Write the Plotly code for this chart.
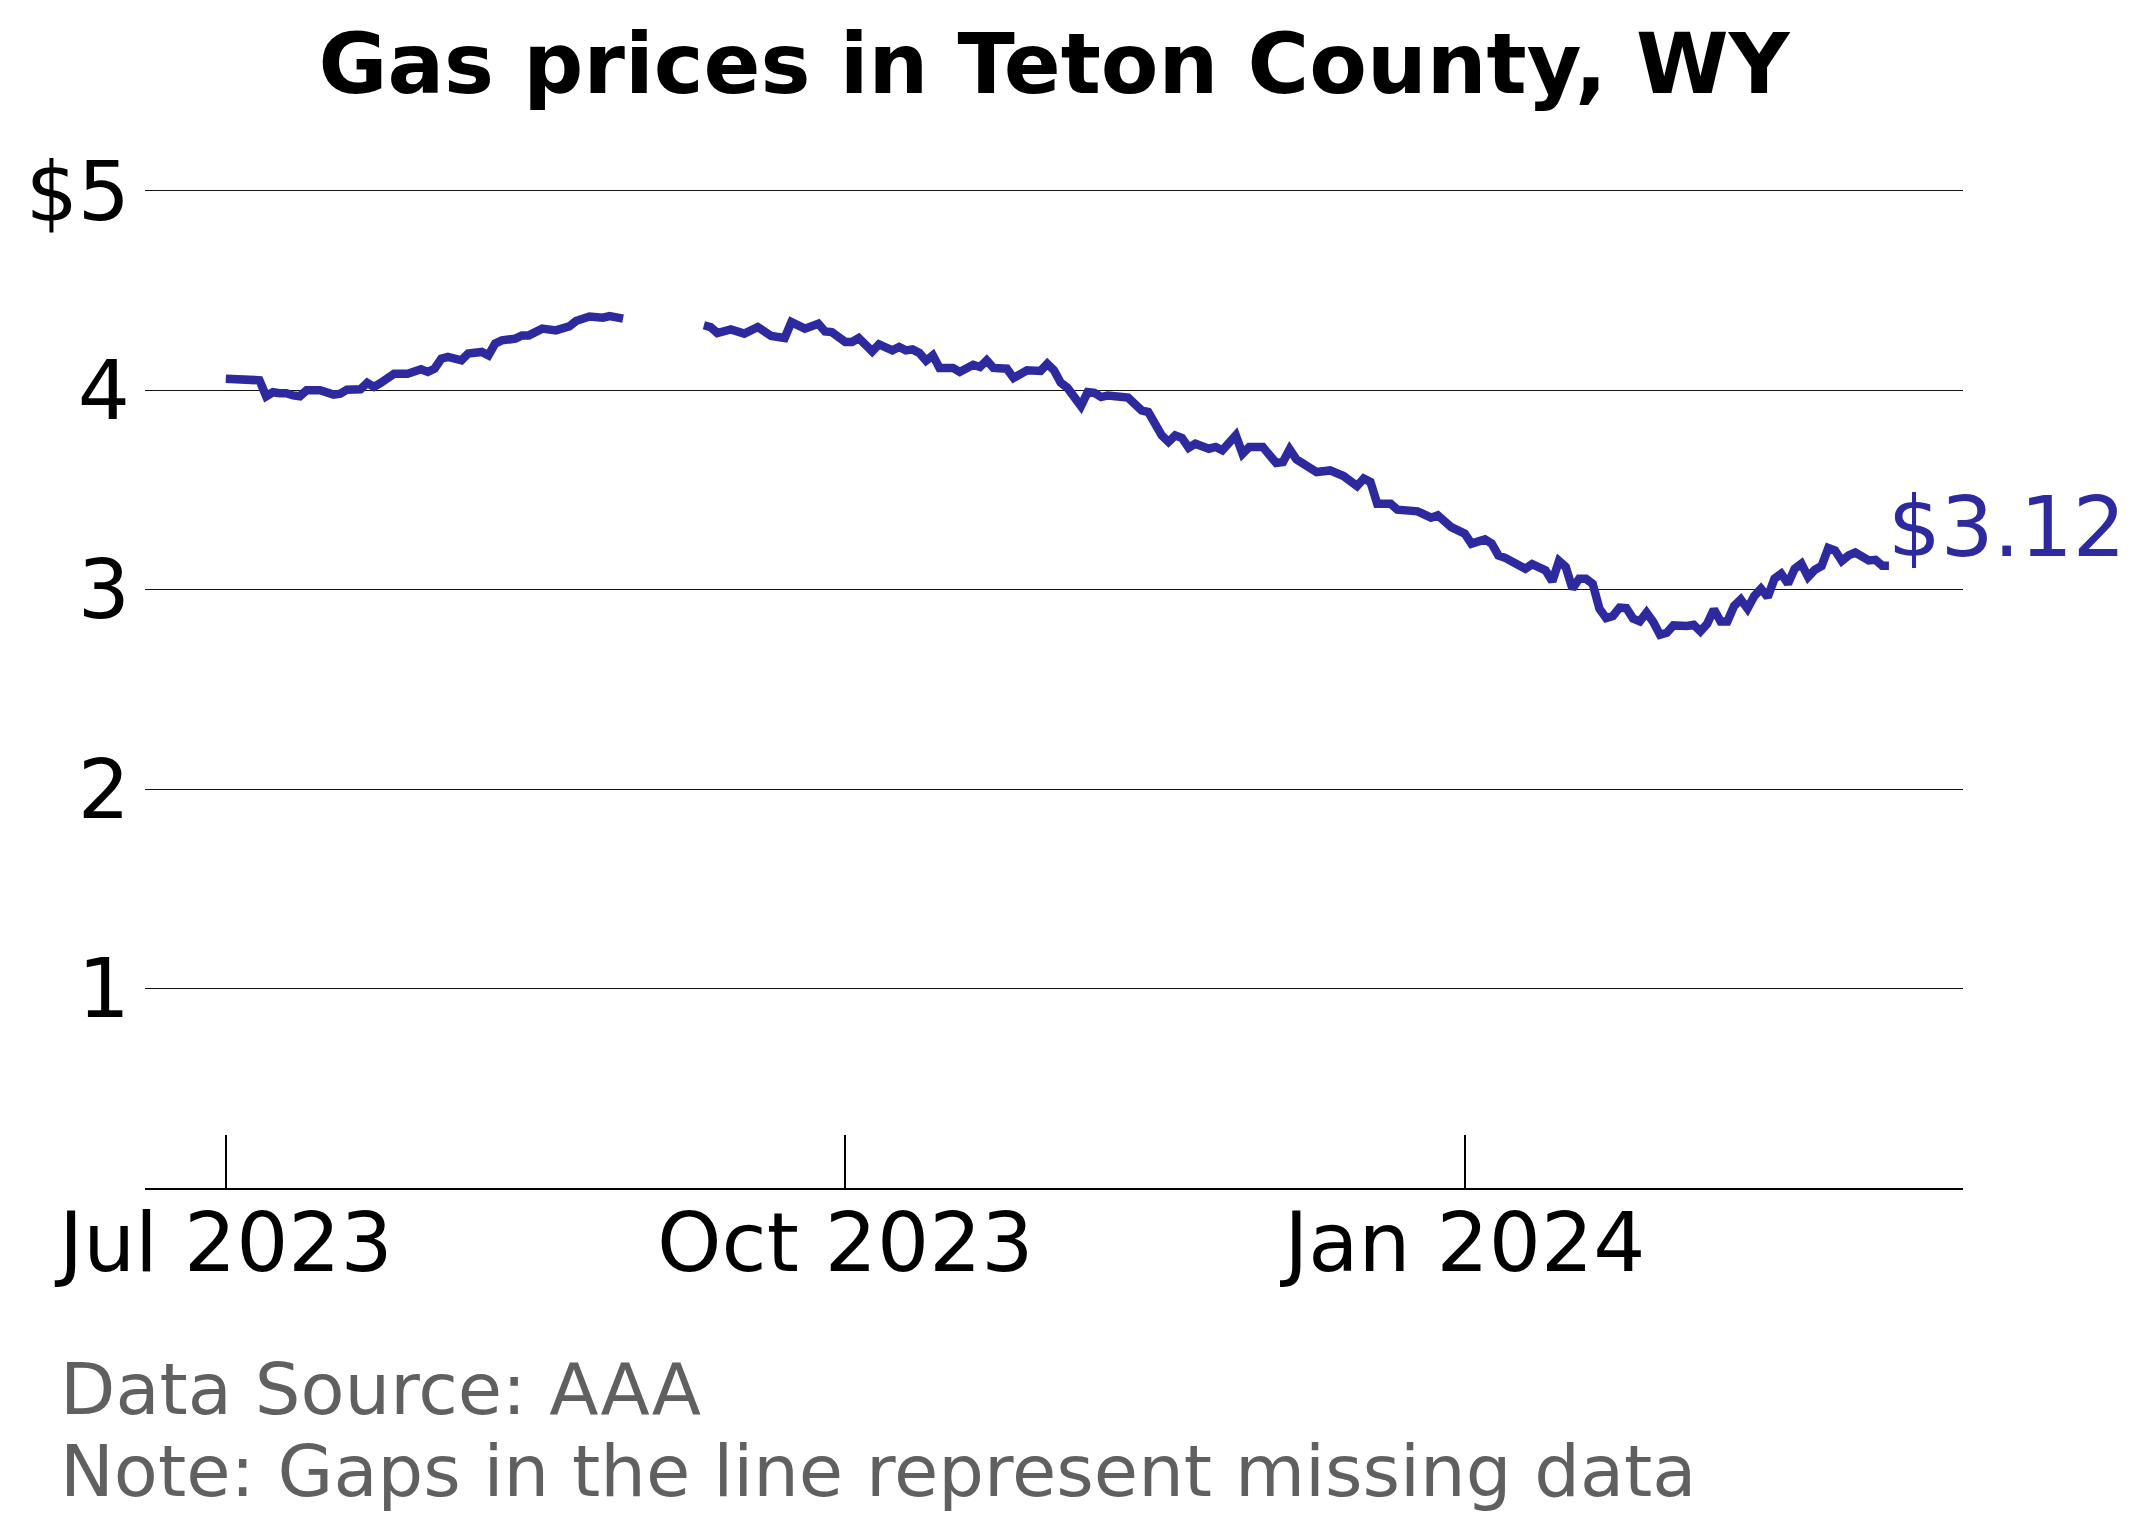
import pandas as pd
import plotly.graph_objects as go

# ---------------- data ----------------
start_date = "2023-07-01"

# segment 1 (days since start_date, price in $)
seg1_days = [0, 2, 3, 4, 5, 6, 7, 8, 9, 10, 11, 12, 14, 16, 17, 18, 20, 21, 22, 23,
             25, 27, 29, 30, 31, 32, 33, 35, 36, 38, 39, 40, 41, 43, 44, 45, 47, 49,
             51, 52, 54, 56, 57, 59]
seg1_prices = [4.058, 4.058, 4.053, 4.060, 4.050, 3.970, 3.990, 3.985, 3.985, 3.974,
               3.970, 4.000, 4.000, 3.978, 3.983, 4.003, 4.005, 4.037, 4.017, 4.037,
               4.083, 4.083, 4.105, 4.092, 4.108, 4.158, 4.167, 4.150, 4.184, 4.192,
               4.175, 4.234, 4.250, 4.259, 4.275, 4.275, 4.309, 4.300, 4.320, 4.347,
               4.370, 4.364, 4.372, 4.359]

# segment 2 (after the missing-data gap)
seg2_days = [71, 72, 73, 75, 77, 79, 81, 83, 84, 86, 88, 89, 90, 92, 93, 94, 96, 97,
             99, 100, 101, 102, 103, 104, 105, 106, 108, 109, 111, 112, 113, 114, 116,
             117, 119, 121, 122, 123, 124, 125, 127, 128, 129, 130, 131, 134, 136, 137,
             139, 140, 141, 142, 143, 144, 146, 147, 148, 150, 151, 152, 154, 156, 157,
             158, 159, 160, 162, 164, 166, 168, 169, 170, 171, 173, 174, 177, 179, 180,
             182, 184, 185, 187, 188, 189, 190, 193, 194, 196, 197, 198, 199, 200, 201,
             202, 203, 204, 205, 206, 207, 208, 209, 210, 211, 212, 213, 214, 215, 217,
             218, 219, 220, 221, 222, 223, 224, 225, 226, 227, 228, 229, 230, 231, 232,
             233, 234, 235, 236, 237, 238, 239, 240, 241, 242, 244, 245, 246, 247]
seg2_prices = [4.326, 4.317, 4.287, 4.305, 4.284, 4.317, 4.272, 4.262, 4.342, 4.309,
               4.334, 4.295, 4.292, 4.242, 4.242, 4.262, 4.195, 4.230, 4.200, 4.217,
               4.200, 4.205, 4.187, 4.148, 4.175, 4.112, 4.112, 4.092, 4.128, 4.117,
               4.150, 4.112, 4.108, 4.062, 4.100, 4.097, 4.133, 4.100, 4.038, 4.012,
               3.921, 3.991, 3.987, 3.966, 3.974, 3.963, 3.899, 3.891, 3.774, 3.741,
               3.774, 3.761, 3.712, 3.732, 3.707, 3.716, 3.699, 3.774, 3.682, 3.716,
               3.716, 3.635, 3.640, 3.704, 3.654, 3.632, 3.590, 3.598, 3.570, 3.520,
               3.557, 3.540, 3.431, 3.431, 3.401, 3.393, 3.361, 3.373, 3.314, 3.281,
               3.231, 3.252, 3.231, 3.172, 3.160, 3.105, 3.128, 3.097, 3.042, 3.144,
               3.114, 3.005, 3.055, 3.055, 3.030, 2.905, 2.858, 2.868, 2.910, 2.908,
               2.855, 2.841, 2.885, 2.838, 2.774, 2.784, 2.821, 2.818, 2.824, 2.791,
               2.829, 2.901, 2.841, 2.841, 2.918, 2.951, 2.905, 2.968, 3.005, 2.963,
               3.055, 3.080, 3.030, 3.105, 3.130, 3.064, 3.100, 3.119, 3.209, 3.197,
               3.144, 3.172, 3.186, 3.147, 3.150, 3.120, 3.120]

tick_dates = ["2023-07-01", "2023-10-01", "2024-01-01"]
tick_labels = ["Jul 2023", "Oct 2023", "Jan 2024"]
y_tickvals = [1, 2, 3, 4, 5]
y_ticktext = ["1", "2", "3", "4", "$5"]

title_text = "Gas prices in Teton County, WY"
caption_source = "Data Source: AAA"
caption_note = "Note: Gaps in the line represent missing data"

# ---------------- build series ----------------
base = pd.Timestamp(start_date)
dates = ([base + pd.Timedelta(days=d) for d in seg1_days] + [None]
         + [base + pd.Timedelta(days=d) for d in seg2_days])
prices = seg1_prices + [None] + seg2_prices

LINE_COLOR = "#2d2a9f"
FONT = "DejaVu Sans"

W, H = 2132, 1524
L, R, T, B = 137, 1955, 123, 1180


def px_x(px):
    return (px - L) / (R - L)


def px_y(py):
    return (B - py) / (B - T)


fig = go.Figure()
fig.add_trace(go.Scatter(
    x=dates, y=prices, mode="lines",
    line=dict(color=LINE_COLOR, width=8.5),
    connectgaps=False, hoverinfo="skip", showlegend=False,
))

last_date = base + pd.Timedelta(days=seg2_days[-1])
fig.add_annotation(
    x=last_date, y=seg2_prices[-1], xref="x", yref="y",
    text=f"${seg2_prices[-1]:.2f}", showarrow=False,
    xanchor="left", yanchor="middle", xshift=-3, yshift=38,
    font=dict(family=FONT, size=83, color=LINE_COLOR),
)

fig.add_annotation(
    x=px_x(50), y=px_y(1381), xref="paper", yref="paper",
    text=caption_source, showarrow=False, xanchor="left", yanchor="middle",
    font=dict(family=FONT, size=72, color="#606060"),
)
fig.add_annotation(
    x=px_x(50), y=px_y(1463), xref="paper", yref="paper",
    text=caption_note, showarrow=False, xanchor="left", yanchor="middle",
    font=dict(family=FONT, size=72, color="#606060"),
)

fig.update_layout(
    width=W, height=H,
    margin=dict(l=L, r=W - R, t=T, b=H - B, pad=0),
    paper_bgcolor="white", plot_bgcolor="white",
    font=dict(family=FONT, color="black"),
    title=dict(
        text=title_text, x=0.5, xref="paper", xanchor="center",
        y=1 - 56 / H, yref="container", yanchor="middle",
        font=dict(family=FONT, size=84, color="black", weight="bold"),
    ),
    xaxis=dict(
        range=["2023-06-19", "2024-03-15"],
        tickmode="array", tickvals=tick_dates, ticktext=tick_labels,
        ticks="inside", ticklen=53, tickwidth=1.6, tickcolor="black",
        showline=True, linecolor="black", linewidth=2.4,
        showgrid=False, zeroline=False,
        tickfont=dict(family=FONT, size=82, color="black"),
        ticklabelstandoff=-18,
    ),
    yaxis=dict(
        range=[0, 5.3],
        tickmode="array", tickvals=y_tickvals, ticktext=y_ticktext,
        ticks="", showline=False, zeroline=False,
        showgrid=True, gridcolor="#111111", gridwidth=1.2,
        tickfont=dict(family=FONT, size=82, color="black"),
        ticklabelstandoff=14,
    ),
)

fig.write_html("out.html")
